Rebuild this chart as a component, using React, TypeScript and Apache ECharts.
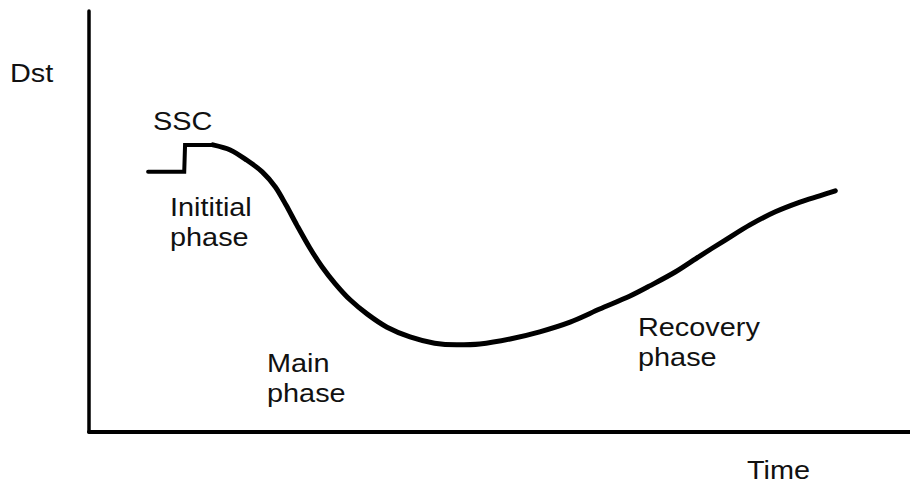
import React, { useEffect, useRef } from "react";
import * as echarts from "echarts";

// Sudden storm commencement (step) segment: time, Dst (arbitrary units)
const sscTime = [7.2, 11.6, 11.7, 15.1];
const sscDst = [61.8, 61.8, 68.2, 68.2];

// Main + recovery phase curve
const stormTime = [15.1, 17.2, 19.2, 21.1, 22.7, 24.0, 25.3, 26.9, 28.4, 30.0, 31.8, 33.9, 36.3, 39.1, 42.1, 44.8, 47.6, 51.3, 54.9, 58.6, 62.2, 65.9, 68.3, 71.4, 74.4, 77.5, 80.5, 83.6, 86.6, 89.0, 90.9];
const stormDst = [68.2, 67.0, 64.6, 61.8, 58.2, 53.9, 49.2, 43.7, 39.2, 35.2, 31.4, 28.0, 24.9, 22.6, 21.1, 20.7, 20.9, 22.1, 23.8, 26.1, 29.2, 32.3, 34.7, 38.0, 41.8, 45.6, 49.2, 52.3, 54.6, 56.1, 57.3];

const axisNames = { y: "Dst", x: "Time" };
const phaseLabels = ["SSC", "Inititial", "phase", "Main", "phase", "Recovery", "phase"];

export default function App() {
  const ref = useRef<HTMLDivElement>(null);
  useEffect(() => {
    if (!ref.current) return;
    const chart = echarts.init(ref.current, null, { renderer: "svg" });
    const font = "Liberation Sans, Arial, sans-serif";
    const txt = (text: string, x: number, y: number, size = 26, sx = 1.11) => ({
      type: "text",
      x,
      y,
      scaleX: sx,
      style: { text, fill: "#111", fontSize: size, fontFamily: font, verticalAlign: "middle", align: "left" },
    });
    chart.setOption({
      animation: false,
      backgroundColor: "#fff",
      grid: { left: 89, right: 0, top: 11, bottom: 52 },
      xAxis: {
        type: "value",
        min: 0,
        max: 100,
        axisLine: { show: true, lineStyle: { color: "#000", width: 4 } },
        axisTick: { show: false },
        axisLabel: { show: false },
        splitLine: { show: false },
      },
      yAxis: {
        type: "value",
        min: 0,
        max: 100,
        axisLine: { show: true, lineStyle: { color: "#000", width: 3.5 } },
        axisTick: { show: false },
        axisLabel: { show: false },
        splitLine: { show: false },
      },
      series: [
        {
          type: "line",
          data: sscTime.map((t, i) => [t, sscDst[i]]),
          showSymbol: false,
          lineStyle: { color: "#000", width: 4, cap: "round", join: "miter" },
        },
        {
          type: "line",
          data: stormTime.map((t, i) => [t, stormDst[i]]),
          smooth: 0.3,
          showSymbol: false,
          lineStyle: { color: "#000", width: 5, cap: "round", join: "round" },
        },
      ],
      graphic: [
        txt(axisNames.y, 10, 73.5),
        txt(axisNames.x, 747, 470),
        txt(phaseLabels[0], 153, 121),
        txt(phaseLabels[1], 170, 207.5),
        txt(phaseLabels[2], 170, 237.5),
        txt(phaseLabels[3], 267, 363.5),
        txt(phaseLabels[4], 267, 393.5),
        txt(phaseLabels[5], 638, 327.5),
        txt(phaseLabels[6], 638, 357.5),
      ],
    });
    return () => chart.dispose();
  }, []);
  return <div ref={ref} style={{ position: "fixed", left: 0, top: 0, width: 910, height: 484, background: "#fff" }} />;
}
